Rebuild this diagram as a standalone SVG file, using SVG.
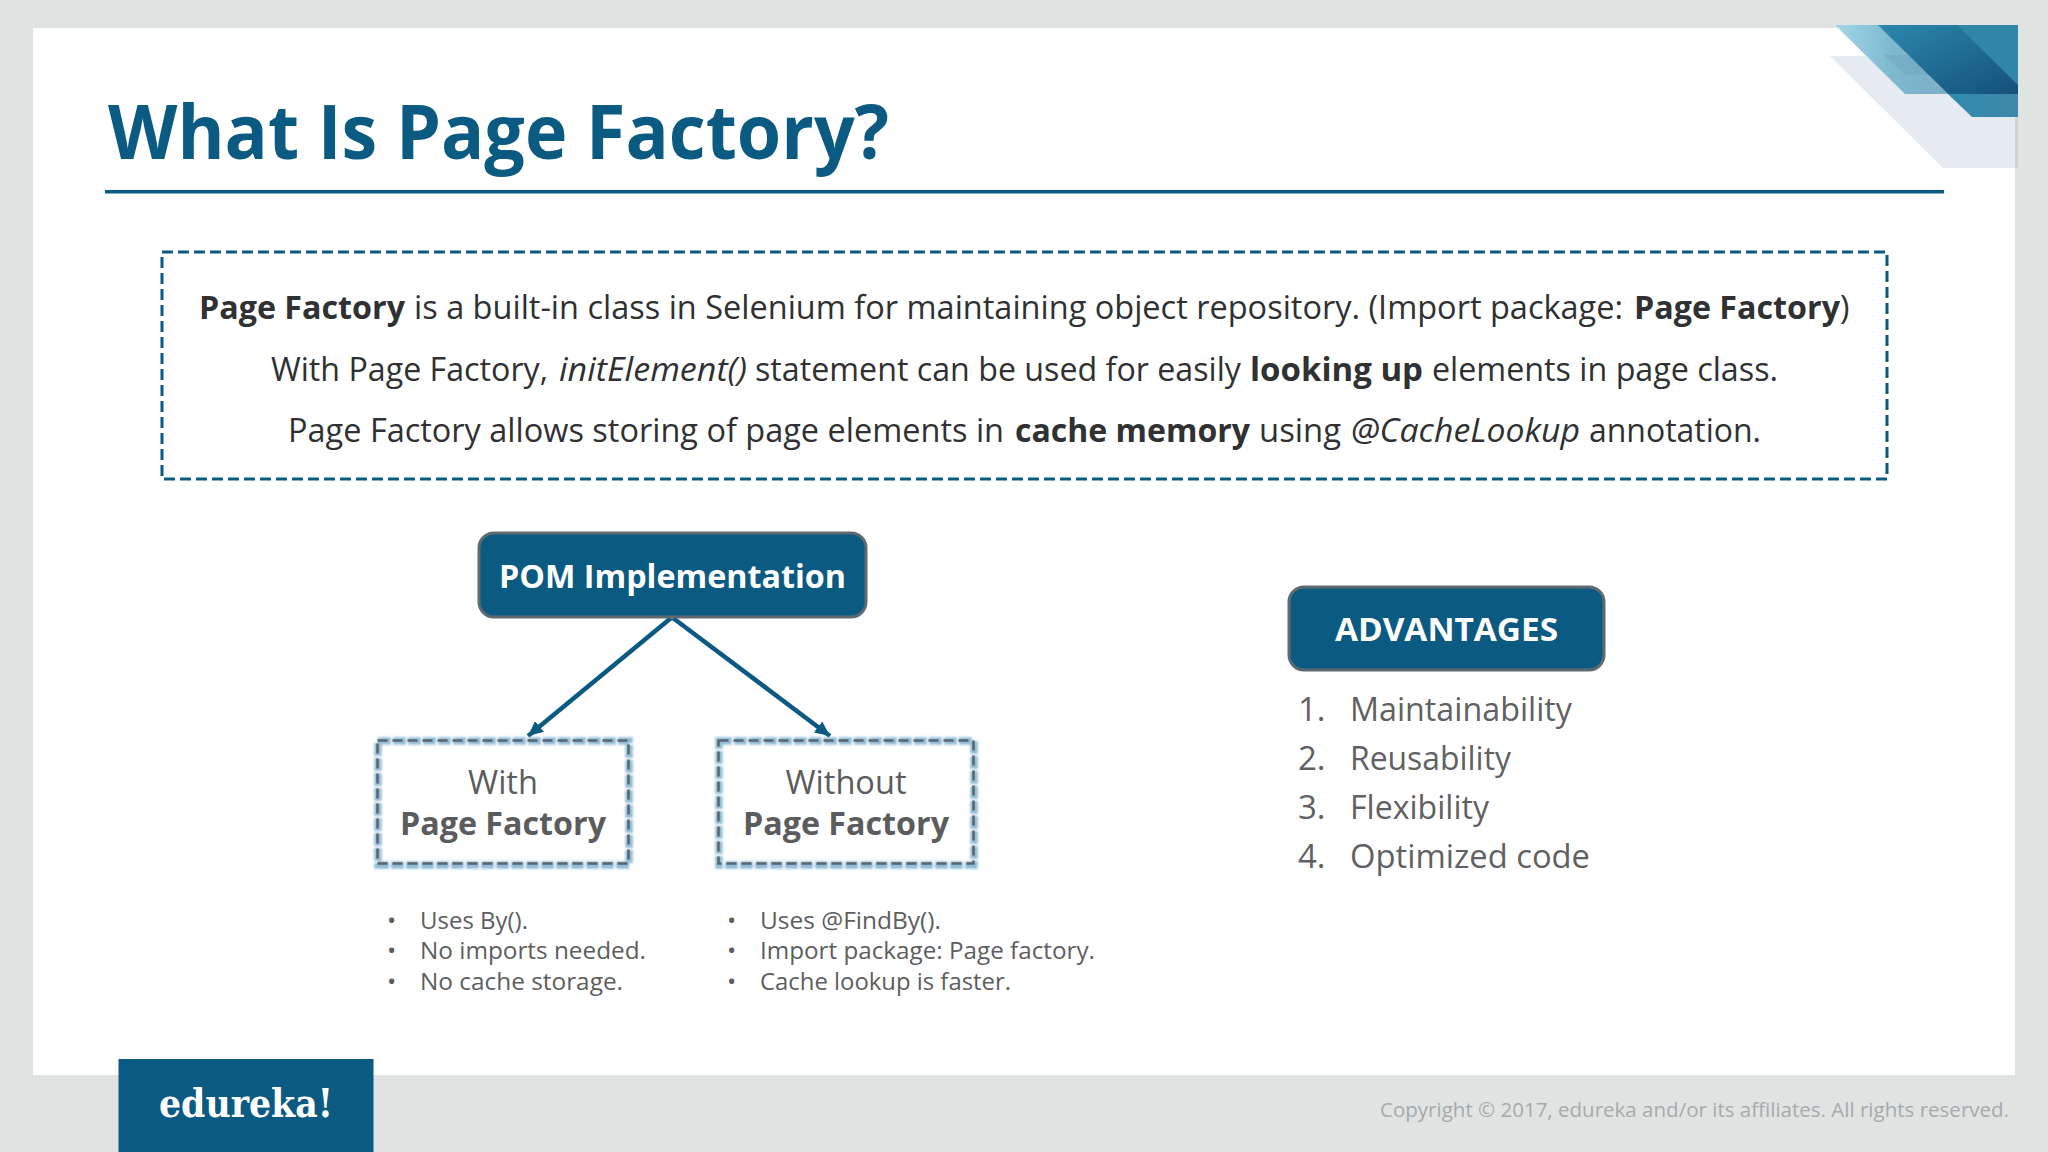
<svg xmlns="http://www.w3.org/2000/svg" width="2048" height="1152" viewBox="0 0 2048 1152">
<defs>
<style>
text{font-family:"Open Sans","Noto Sans","Liberation Sans",sans-serif}
.d{font-size:32px;fill:#2f3133}
.b{font-weight:700}
.i{font-style:italic}
.w{fill:#fff;font-weight:700}
.g{fill:#5a5c5e}
.s{font-size:24.500px;fill:#5c5e60}
.a{font-size:33px;fill:#5f6163}
.dash{fill:none;stroke:#5a666e;stroke-width:2.500;stroke-dasharray:10 5}
.glow{fill:#fff;stroke:#8fbcd8;stroke-width:7.500;stroke-dasharray:13 2;filter:url(#soft)}
.solid{fill:#0b5a82;stroke:#5f6a70;stroke-width:3}
.conn{stroke:#0b5a82;stroke-width:4.500;fill:none;marker-end:url(#arrow)}
</style>
<filter id="soft" x="-10%" y="-10%" width="120%" height="120%"><feGaussianBlur stdDeviation="0.900"/></filter>
<marker id="arrow" markerUnits="userSpaceOnUse" markerWidth="18" markerHeight="16" refX="15" refY="7" orient="auto"><path d="M0 0L15 7L0 14Z" fill="#0b5a82"/></marker>
<linearGradient id="cA" x1="0" x2="1" y1="0" y2="0"><stop offset="0" stop-color="#a4d6e8"/><stop offset="0.500" stop-color="#7db9cf"/><stop offset="1" stop-color="#7fadc6"/></linearGradient>
<linearGradient id="cB" x1="0" x2="1" y1="0" y2="1"><stop offset="0" stop-color="#2c88ad"/><stop offset="1" stop-color="#14507a"/></linearGradient>
<linearGradient id="cC" x1="0" x2="1" y1="0" y2="0"><stop offset="0" stop-color="#2f8bae"/><stop offset="1" stop-color="#3f88a8"/></linearGradient>
</defs>
<rect width="2048" height="1152" fill="#dfe4e3"/>
<rect x="33" y="28" width="1982" height="1047" fill="#fff"/>
<g id="corner">
<path d="M1830 56H2018V168H1943Z" fill="#e6eaf1"/>
<rect x="2015" y="117" width="3" height="51" fill="#ced3d6"/>
<path d="M1835 25H1879L1948 94H1905Z" fill="url(#cA)"/>
<path d="M1884 55H1915L1934 75H1905Z" fill="#6fa5bd" opacity="0.500"/>
<path d="M1878 25H2018V94H1948Z" fill="url(#cB)"/>
<path d="M1948 94H2018V117H1972Z" fill="url(#cC)"/>
<path d="M1957 25H2018V85Z" fill="#2f86a8"/>
</g>
<text x="108" y="159" font-size="75" font-weight="700" fill="#0b5a82" textLength="781" lengthAdjust="spacingAndGlyphs">What Is Page Factory?</text>
<rect x="105" y="190" width="1839" height="3.500" fill="#0b5a82"/>
<g id="definition">
<rect x="162" y="252" width="1725" height="227" fill="none" stroke="#0b5a82" stroke-width="3" stroke-dasharray="11 5"/>
<text class="d" y="319"><tspan class="b" x="199" textLength="206" lengthAdjust="spacingAndGlyphs">Page Factory</tspan><tspan x="414" textLength="1209" lengthAdjust="spacingAndGlyphs">is a built-in class in Selenium for maintaining object repository. (Import package:</tspan><tspan class="b" x="1634" textLength="206" lengthAdjust="spacingAndGlyphs">Page Factory</tspan><tspan x="1840">)</tspan></text>
<text class="d" y="381"><tspan x="271" textLength="277" lengthAdjust="spacingAndGlyphs">With Page Factory,</tspan><tspan class="i" x="559" textLength="188" lengthAdjust="spacingAndGlyphs">initElement()</tspan><tspan x="755" textLength="486" lengthAdjust="spacingAndGlyphs">statement can be used for easily</tspan><tspan class="b" x="1250" textLength="173" lengthAdjust="spacingAndGlyphs">looking up</tspan><tspan x="1432" textLength="346" lengthAdjust="spacingAndGlyphs">elements in page class.</tspan></text>
<text class="d" y="442"><tspan x="288" textLength="716" lengthAdjust="spacingAndGlyphs">Page Factory allows storing of page elements in</tspan><tspan class="b" x="1015" textLength="235" lengthAdjust="spacingAndGlyphs">cache memory</tspan><tspan x="1259" textLength="82" lengthAdjust="spacingAndGlyphs">using</tspan><tspan class="i" x="1351" textLength="229" lengthAdjust="spacingAndGlyphs">@CacheLookup</tspan><tspan x="1589" textLength="172" lengthAdjust="spacingAndGlyphs">annotation.</tspan></text>
</g>
<g id="connectors">
<line class="conn" x1="671" y1="618" x2="528" y2="736"/>
<line class="conn" x1="673" y1="618" x2="830" y2="736"/>
</g>
<g id="pom">
<rect class="solid" x="479" y="533" width="387" height="84" rx="15"/>
<text class="w" x="499" y="588" font-size="33" textLength="347" lengthAdjust="spacingAndGlyphs">POM Implementation</text>
</g>
<g id="with">
<rect class="glow" x="378" y="741" width="251" height="124"/>
<rect class="dash" x="377.500" y="740.500" width="251" height="123"/>
<text class="g" x="503" y="794" font-size="32" text-anchor="middle" textLength="70" lengthAdjust="spacingAndGlyphs">With</text>
<text class="g b" x="400" y="835" font-size="32" textLength="206" lengthAdjust="spacingAndGlyphs">Page Factory</text>
</g>
<g id="without">
<rect class="glow" x="719" y="741" width="255" height="124"/>
<rect class="dash" x="718.500" y="740.500" width="255" height="123"/>
<text class="g" x="846" y="794" font-size="32" text-anchor="middle" textLength="121" lengthAdjust="spacingAndGlyphs">Without</text>
<text class="g b" x="743" y="835" font-size="32" textLength="206" lengthAdjust="spacingAndGlyphs">Page Factory</text>
</g>
<g id="with-list">
<text class="s"><tspan x="387" y="929">•</tspan><tspan x="420" y="929" textLength="108" lengthAdjust="spacingAndGlyphs">Uses By().</tspan><tspan x="387" y="959">•</tspan><tspan x="420" y="959" textLength="226" lengthAdjust="spacingAndGlyphs">No imports needed.</tspan><tspan x="387" y="990">•</tspan><tspan x="420" y="990" textLength="203" lengthAdjust="spacingAndGlyphs">No cache storage.</tspan></text>
</g>
<g id="without-list">
<text class="s"><tspan x="727" y="929">•</tspan><tspan x="760" y="929" textLength="181" lengthAdjust="spacingAndGlyphs">Uses @FindBy().</tspan><tspan x="727" y="959">•</tspan><tspan x="760" y="959" textLength="335" lengthAdjust="spacingAndGlyphs">Import package: Page factory.</tspan><tspan x="727" y="990">•</tspan><tspan x="760" y="990" textLength="251" lengthAdjust="spacingAndGlyphs">Cache lookup is faster.</tspan></text>
</g>
<g id="advantages">
<rect class="solid" x="1289" y="587" width="315" height="83" rx="15"/>
<text class="w" x="1335" y="641" font-size="33" textLength="223" lengthAdjust="spacingAndGlyphs">ADVANTAGES</text>
</g>
<g id="advantages-list">
<text class="a"><tspan x="1298" y="721">1.</tspan><tspan x="1350" y="721" textLength="222" lengthAdjust="spacingAndGlyphs">Maintainability</tspan><tspan x="1298" y="770">2.</tspan><tspan x="1350" y="770" textLength="161" lengthAdjust="spacingAndGlyphs">Reusability</tspan><tspan x="1298" y="819">3.</tspan><tspan x="1350" y="819" textLength="139" lengthAdjust="spacingAndGlyphs">Flexibility</tspan><tspan x="1298" y="868">4.</tspan><tspan x="1350" y="868" textLength="240" lengthAdjust="spacingAndGlyphs">Optimized code</tspan></text>
</g>
<g id="footer">
<rect x="118.500" y="1059" width="255" height="93" fill="#0b5a82"/>
<text x="159" y="1117" font-size="39" font-weight="700" fill="#fff" style="font-family:'DejaVu Serif','Liberation Serif',serif" textLength="174" lengthAdjust="spacingAndGlyphs">edureka!</text>
<text x="1380" y="1117" font-size="20" fill="#a6aaac" textLength="629" lengthAdjust="spacingAndGlyphs">Copyright © 2017, edureka and/or its affiliates. All rights reserved.</text>
</g>
</svg>
